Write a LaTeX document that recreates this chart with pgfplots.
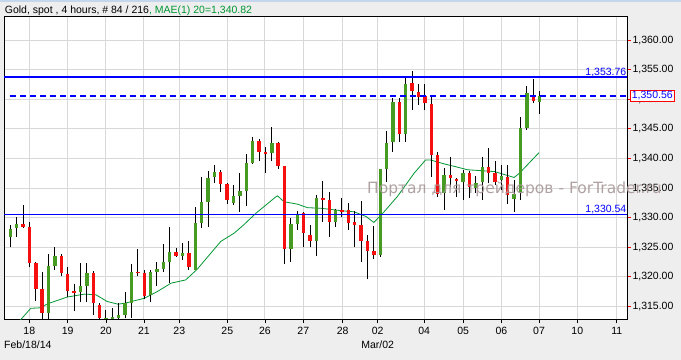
\documentclass[border=0pt]{standalone}
\usepackage{pgfplots}
\pgfplotsset{compat=1.18}
\usepackage{pgfplotstable}
\usepackage{fontspec}
\setmainfont{Liberation Sans}
\newfontfamily\wmfont{DejaVu Sans}
\definecolor{bgc}{RGB}{238,238,238}
\definecolor{topblue}{RGB}{196,214,236}
\definecolor{cgreen}{RGB}{70,155,35}
\definecolor{cred}{RGB}{245,15,15}
\definecolor{magreen}{RGB}{0,150,50}
\definecolor{gridc}{RGB}{216,216,216}
\definecolor{wmark}{RGB}{168,152,152}
\definecolor{lvl}{RGB}{0,0,255}

\pgfplotstableread{
idx o h l c
1 1326.8 1328.8 1325.0 1328.1
2 1328.2 1330.1 1326.8 1329.0
3 1329.0 1332.2 1328.3 1328.5
4 1328.4 1329.2 1321.6 1322.4
5 1322.4 1322.6 1316.0 1317.9
6 1317.9 1320.8 1312.8 1313.9
7 1313.9 1323.9 1312.8 1321.9
8 1321.9 1325.1 1321.1 1323.6
9 1323.6 1323.9 1320.1 1320.6
10 1320.5 1321.6 1316.6 1317.7
11 1317.7 1318.8 1314.2 1317.4
12 1317.5 1322.4 1315.8 1318.5
13 1318.5 1322.3 1315.8 1320.6
14 1320.6 1321.0 1313.6 1315.6
15 1315.3 1315.6 1312.8 1313.0
16 1313.0 1314.4 1312.5 1313.1
17 1312.9 1314.8 1312.5 1313.2
18 1313.1 1315.6 1312.9 1313.6
19 1313.6 1317.4 1313.0 1315.6
20 1315.6 1322.2 1313.1 1320.8
21 1320.9 1324.8 1320.1 1320.7
22 1320.6 1321.1 1316.2 1316.8
23 1316.9 1321.2 1315.8 1320.8
24 1320.8 1322.5 1318.4 1321.4
25 1321.4 1325.6 1320.8 1322.5
26 1322.5 1328.4 1319.0 1324.2
27 1324.2 1324.85 1323.4 1323.55
28 1323.6 1325.7 1322.9 1324.05
29 1324.0 1326.1 1321.2 1321.6
30 1321.2 1331.8 1321.1 1329.1
31 1329.1 1336.9 1328.2 1332.7
32 1332.7 1337.9 1328.5 1336.7
33 1336.8 1338.9 1335.9 1337.7
34 1337.7 1338.1 1334.4 1335.7
35 1335.7 1335.8 1332.3 1333.05
36 1332.55 1335.5 1332.2 1333.7
37 1333.7 1337.5 1331.0 1334.5
38 1334.6 1340.7 1331.9 1339.3
39 1339.3 1343.7 1339.1 1343.0
40 1343.0 1343.3 1339.5 1341.15
41 1341.1 1341.9 1337.5 1340.9
42 1340.9 1345.4 1339.5 1342.6
43 1342.7 1342.8 1338.2 1338.8
44 1338.8 1338.8 1322.2 1324.7
45 1324.7 1329.9 1322.6 1329.0
46 1329.0 1331.1 1327.9 1330.6
47 1330.75 1331.0 1325.0 1327.4
48 1327.1 1328.8 1325.0 1326.1
49 1326.1 1333.8 1323.55 1333.3
50 1333.3 1336.2 1329.3 1333.0
51 1333.0 1334.4 1326.8 1329.3
52 1329.3 1331.4 1328.5 1331.3
53 1331.3 1333.4 1330.2 1331.0
54 1331.25 1332.55 1327.9 1329.2
55 1329.2 1331.2 1325.0 1328.8
56 1328.8 1332.8 1322.6 1326.1
57 1326.1 1327.1 1319.6 1324.4
58 1324.4 1328.6 1323.0 1323.7
59 1323.7 1338.3 1323.4 1338.2
60 1338.2 1344.7 1336.1 1342.7
61 1342.8 1350.2 1341.15 1349.5
62 1349.5 1350.2 1342.8 1344.1
63 1344.1 1353.8 1342.8 1352.6
64 1352.7 1354.8 1348.2 1351.4
65 1351.2 1352.6 1349.0 1350.4
66 1350.6 1352.6 1348.2 1349.3
67 1349.3 1350.8 1336.9 1340.6
68 1340.6 1341.15 1333.55 1334.1
69 1334.1 1338.35 1331.3 1337.2
70 1337.2 1340.3 1335.25 1336.7
71 1336.55 1336.7 1333.55 1336.3
72 1336.1 1338.1 1333.0 1337.5
73 1337.5 1337.95 1333.3 1335.25
74 1335.0 1337.05 1334.2 1335.9
75 1336.1 1340.3 1333.0 1338.5
76 1338.5 1341.7 1335.8 1337.5
77 1337.5 1339.5 1335.5 1336.1
78 1336.4 1338.9 1334.7 1337.05
79 1336.95 1338.9 1332.4 1333.85
80 1333.1 1336.4 1331.0 1334.1
81 1334.1 1347.05 1333.0 1345.1
82 1345.1 1352.2 1344.8 1351.0
83 1350.8 1353.4 1349.3 1349.7
84 1349.6 1351.45 1347.6 1350.56
}\candles

\pgfplotstableread{
idx ma
2.4 1312.5
4.2 1314.7
5.8 1314.8
6.8 1315.45
9.9 1316.6
12.6 1317.1
14.4 1317.0
16.2 1315.85
17.9 1315.4
19.1 1315.6
20.0 1315.85
22.0 1316.4
24.0 1317.5
26.2 1318.95
28.5 1319.5
30.3 1321.3
34.0 1326.0
36.1 1327.4
37.6 1328.8
39.5 1330.75
40.8 1331.9
42.6 1333.5
42.9 1333.7
43.9 1332.7
46.0 1332.3
47.6 1331.7
49.7 1331.6
52.8 1331.2
54.9 1331.0
56.8 1330.2
58.0 1329.2
59.6 1331.0
61.7 1333.6
64.3 1337.5
66.1 1339.75
66.9 1339.75
69.0 1339.1
70.9 1338.6
72.7 1338.1
76.9 1337.8
80.0 1336.8
80.8 1337.5
83.9 1341.0
}\matab

\begin{document}
\begin{tikzpicture}
\useasboundingbox (-4bp,-41bp) rectangle (677bp,319bp);
\fill[bgc] (-4bp,-41bp) rectangle (677bp,319bp);
\fill[topblue] (-4bp,316.5bp) rectangle (677bp,319bp);
\node[anchor=base west, inner sep=0pt, font=\fontsize{10.5bp}{12bp}\selectfont] at (0.7bp,305bp)
  {Gold, spot , 4 hours, \# 84 / 216\textcolor{magreen}{, MAE(1) 20=1,340.82}};
\begin{axis}[
  at={(0,0)}, anchor=south west,
  scale only axis, width=623bp, height=302bp,
  xmin=0.012, xmax=97.69, ymin=1312.9, ymax=1363.9,
  axis background/.style={fill=white},
  axis line style={black, line width=1bp},
  clip mode=individual,
  xtick={3.98,10.0,16.0,21.96,27.5,35.02,40.93,46.94,53.1,58.6,65.9,72.0,78.0,83.9,89.9,96.1},
  xticklabels={18,19,20,21,23,25,26,27,28,02,04,05,06,07,10,11},
  ytick={1315,1320,...,1360},
  yticklabel pos=right, ytick pos=right, xtick pos=bottom,
  tick align=outside, major tick length=4bp,
  xtick style={black, line width=0.8bp},
  ytick style={red, line width=1bp},
  grid=major, major grid style={gridc, line width=1bp},
  tick label style={font=\fontsize{10.5bp}{12bp}\selectfont},
  yticklabel={\pgfmathprintnumber[fixed, fixed zerofill, precision=2, 1000 sep={,}, assume math mode=true]{\tick}},
  xticklabel style={yshift=-1bp},
  yticklabel style={xshift=-2bp},
]
\addplot[magreen, line width=0.8bp, mark=none] table[x=idx, y=ma] {\matab};
% wicks
\addplot[draw=none, mark=none,
  error bars/.cd, y dir=plus, y explicit, error mark=none,
  error bar style={draw=black, line width=1bp, solid}]
  table[x=idx, y=l, y error expr={\thisrow{h}-\thisrow{l}}] {\candles};
% green bodies
\addplot[draw=none, mark=none, restrict y to domain=1300:1400,
  error bars/.cd, y dir=both, y explicit, error mark=none,
  error bar style={draw=cgreen, line width=3.4bp, solid}]
  table[x=idx, y expr={(\thisrow{o}+\thisrow{c})/2 + 1000*(\thisrow{c}<\thisrow{o})},
        y error expr={max(abs(\thisrow{c}-\thisrow{o})/2,0.09)}] {\candles};
% red bodies
\addplot[draw=none, mark=none, restrict y to domain=1300:1400,
  error bars/.cd, y dir=both, y explicit, error mark=none,
  error bar style={draw=cred, line width=3.4bp, solid}]
  table[x=idx, y expr={(\thisrow{o}+\thisrow{c})/2 + 1000*(\thisrow{c}>=\thisrow{o})},
        y error expr={max(abs(\thisrow{c}-\thisrow{o})/2,0.09)}] {\candles};
% levels
\addplot[draw=lvl, line width=1.1bp, mark=none] coordinates {(0.012,1353.76) (97.69,1353.76)};
\addplot[draw=lvl, line width=1.1bp, mark=none] coordinates {(0.012,1330.54) (97.69,1330.54)};
\addplot[draw=lvl, line width=1.1bp, mark=none, dash pattern=on 6bp off 4bp] coordinates {(0.95,1350.56) (97.69,1350.56)};
\node[anchor=south east, inner sep=0.5bp, text=lvl, font=\fontsize{10.5bp}{12bp}\selectfont] at (axis cs:97.69,1353.76) {1,353.76};
\node[anchor=south east, inner sep=0.5bp, text=lvl, font=\fontsize{10.5bp}{12bp}\selectfont] at (axis cs:97.69,1330.54) {1,330.54};
\coordinate (lastp) at (axis cs:97.69,1350.56);
\coordinate (mar) at (axis cs:58.6,1312.9);
\end{axis}
\node[anchor=west, draw=red, line width=0.8bp, fill=white, text=lvl, inner xsep=1.5bp, inner ysep=1.5bp,
  font=\fontsize{10.5bp}{12bp}\selectfont] at ([xshift=3bp]lastp) {1,350.56};
\node[anchor=west, inner sep=0pt, font=\fontsize{10.5bp}{12bp}\selectfont] at (0bp,-26bp) {Feb/18/14};
\node[inner sep=0pt, font=\fontsize{10.5bp}{12bp}\selectfont] at ([yshift=-26bp]mar) {Mar/02};
\node[text=wmark, opacity=0.9, inner sep=0pt, anchor=west,
  font=\wmfont\fontsize{15.5bp}{17bp}\selectfont] at (363bp,130bp)
  {Портал для трейдеров - ForTrader.ru};
\end{tikzpicture}
\end{document}
